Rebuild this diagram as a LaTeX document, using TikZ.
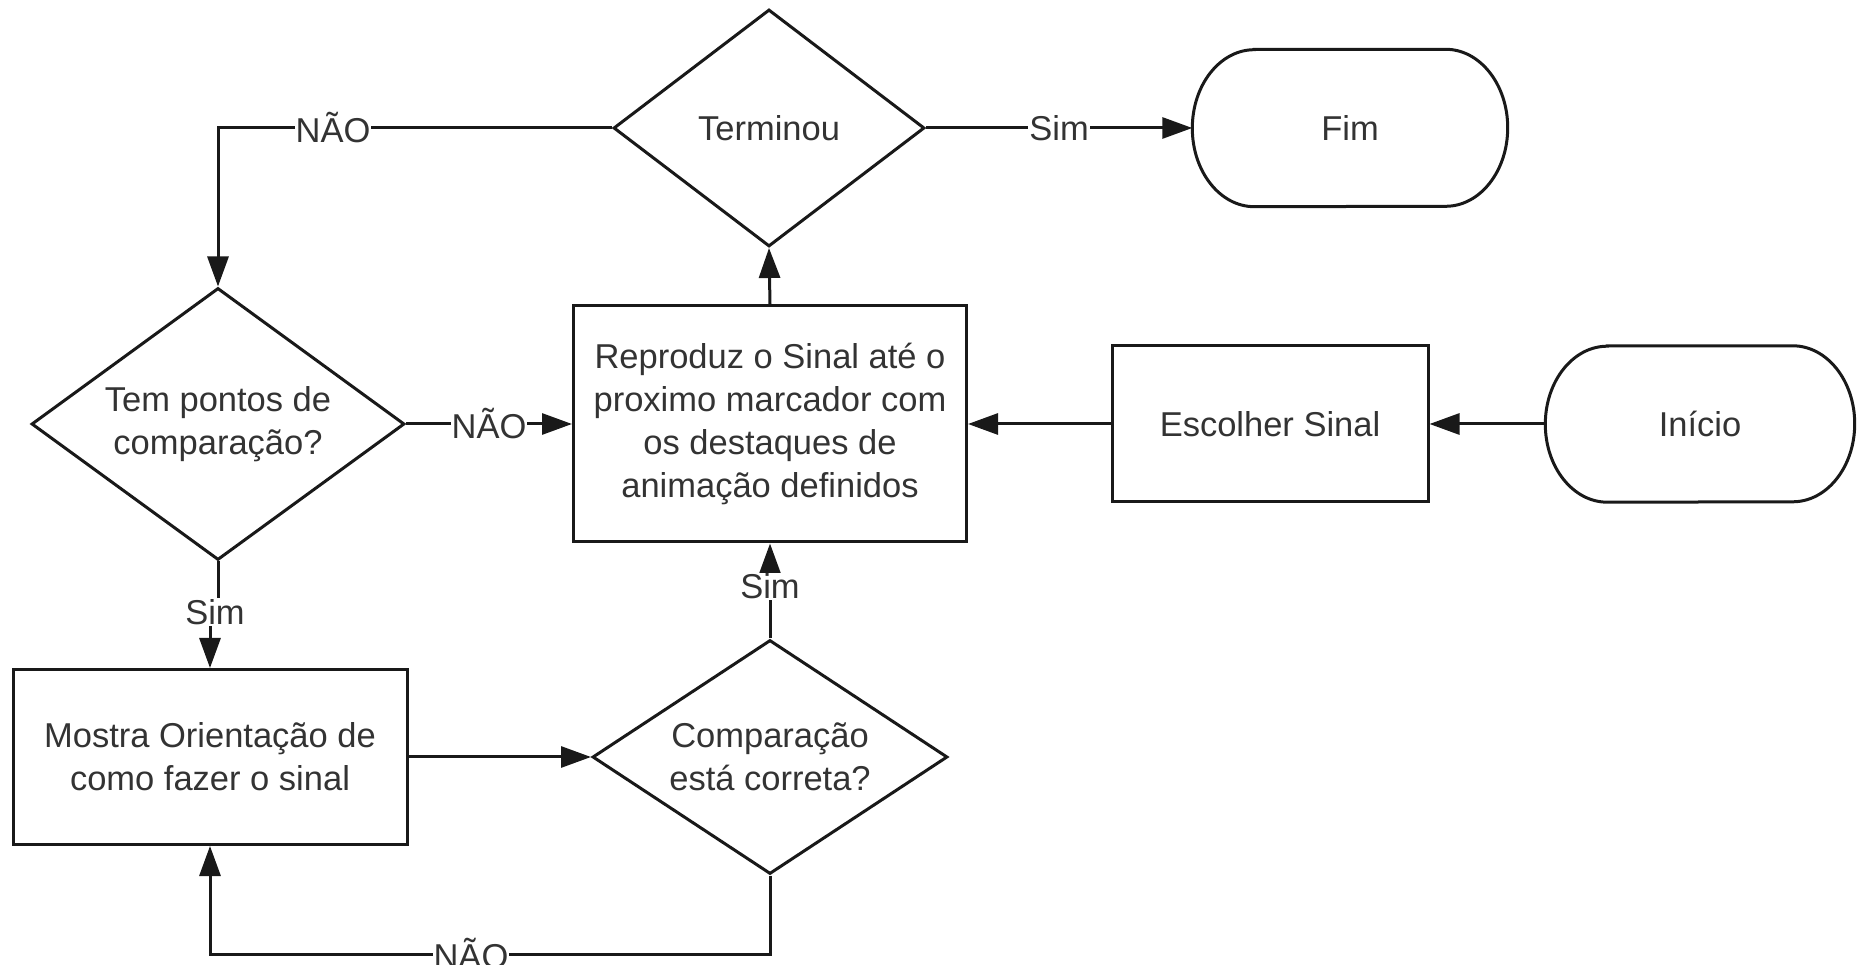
\documentclass[tikz,border=0pt]{standalone}
\usepackage{fontspec}
\setmainfont{Liberation Sans}
\usetikzlibrary{shapes.geometric,arrows.meta,calc}
\definecolor{txt}{RGB}{51,51,51}
\definecolor{ln}{RGB}{25,25,25}
\tikzset{
  base/.style={draw=ln, line width=3pt, text=txt, align=center, inner sep=0pt,
    font=\fontsize{34.5}{43}\selectfont},
  boxnode/.style={base, rectangle},
  decision/.style={base, diamond},
  terminal/.style={rectangle, inner sep=0pt, text=txt, align=center,
    font=\fontsize{34.5}{43}\selectfont},
  termline/.style={draw=ln, line width=3pt},
  arr/.style={draw=ln, line width=3pt, -{Triangle[length=30pt,width=21pt]}},
  plain/.style={draw=ln, line width=3pt},
  lbl/.style={fill=white, text=txt, inner sep=1pt,
    font=\fontsize{34.5}{43}\selectfont},
}
\begin{document}
\begin{tikzpicture}[x=1pt,y=1pt]
\useasboundingbox (0,0) rectangle (1857,964);

% nodes
\node[decision, minimum width=311, minimum height=237, aspect=1.31] (term) at (769,836) {Terminou};
\node[terminal, minimum width=315, minimum height=157] (fim) at (1350,836) {Fim};
\node[boxnode, minimum width=393, minimum height=236] (repr) at (770,540)
  {Reproduz o Sinal até o\\proximo marcador com\\os destaques de\\animação definidos};
\node[boxnode, minimum width=316, minimum height=156] (esc) at (1270,540) {Escolher Sinal};
\node[terminal, minimum width=309, minimum height=156] (ini) at (1700,540) {Início};
\node[decision, minimum width=373, minimum height=272, aspect=1.37] (tem) at (218,540)
  {Tem pontos de\\comparação?};
\node[boxnode, minimum width=394, minimum height=175] (mostra) at (210,207)
  {Mostra Orientação de\\como fazer o sinal};
\node[decision, minimum width=355, minimum height=234, aspect=1.52] (comp) at (770,207)
  {Comparação\\está correta?};

% terminal outlines
\draw[termline] ($(fim.north west)+(62,0)$) -- ($(fim.north east)+(-62,0)$)
  arc[start angle=90, end angle=-90, x radius=62, y radius=78.5]
  -- ($(fim.south west)+(62,0)$)
  arc[start angle=270, end angle=90, x radius=62, y radius=78.5] -- cycle;
\draw[termline] ($(ini.north west)+(62,0)$) -- ($(ini.north east)+(-62,0)$)
  arc[start angle=90, end angle=-90, x radius=62, y radius=78]
  -- ($(ini.south west)+(62,0)$)
  arc[start angle=270, end angle=90, x radius=62, y radius=78] -- cycle;

% connectors
\draw[arr] (ini.west) -- (esc.east);
\draw[arr] (esc.west) -- (repr.east);
\draw[arr] (repr.north) -- (term.south);
\draw[arr] (term.east) -- node[lbl] {Sim} (fim.west);
\draw[arr] (term.west) -| node[lbl, pos=0.354] {NÃO} (tem.north);
\draw[arr] (tem.east) -- node[lbl] {NÃO} (repr.west);

\coordinate (j) at (215,352);
\draw[arr] (tem.south) |- (j) -| (mostra.north);
\node[lbl] (simA) at (j) {Sim};

\draw[arr] (mostra.east) -- (comp.west);
\draw[arr] (comp.north) -- node[lbl, pos=0.55] {Sim} (repr.south);

\coordinate (b1) at (770,10);
\coordinate (b2) at (210,10);
\draw[arr] (comp.south) -- (comp.south |- b1) -- node[lbl, pos=0.534] {NÃO} (mostra.south |- b2) -- (mostra.south);
\end{tikzpicture}
\end{document}
